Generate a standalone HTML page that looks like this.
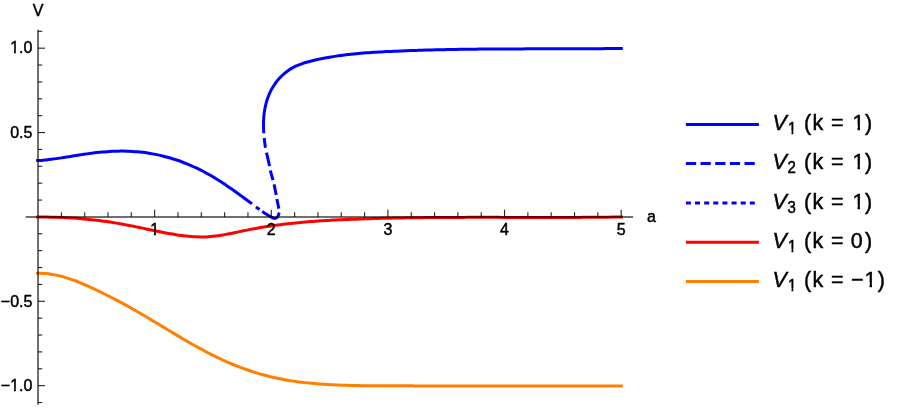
<!DOCTYPE html>
<html><head><meta charset="utf-8"><title>Plot</title>
<style>html,body{margin:0;padding:0;background:#fff;width:900px;height:408px;overflow:hidden;font-family:"Liberation Sans",sans-serif;}</style></head>
<body>
<svg width="900" height="408" viewBox="0 0 900 408" style="position:absolute;left:0;top:0;will-change:transform">
<rect width="900" height="408" fill="#fff"/>
<path d="M36.10,273.20 C36.94,273.20 39.48,273.13 41.16,273.19 C42.84,273.26 44.53,273.40 46.19,273.57 C47.86,273.74 49.52,273.96 51.16,274.22 C52.81,274.48 54.44,274.79 56.07,275.13 C57.70,275.46 59.31,275.85 60.92,276.26 C62.53,276.67 64.13,277.12 65.72,277.59 C67.31,278.07 68.89,278.57 70.46,279.11 C72.04,279.64 73.60,280.20 75.16,280.78 C76.72,281.36 78.28,281.97 79.82,282.59 C81.37,283.21 82.91,283.85 84.45,284.51 C85.98,285.17 87.51,285.84 89.03,286.53 C90.56,287.21 92.08,287.91 93.59,288.62 C95.11,289.33 96.62,290.05 98.13,290.78 C99.63,291.50 101.14,292.24 102.63,292.99 C104.13,293.73 105.63,294.48 107.12,295.23 C108.61,295.99 110.10,296.75 111.59,297.52 C113.08,298.28 114.56,299.06 116.04,299.84 C117.52,300.61 118.99,301.40 120.46,302.19 C121.94,302.98 123.41,303.78 124.87,304.58 C126.34,305.38 127.80,306.19 129.26,307.01 C130.72,307.82 132.17,308.64 133.62,309.47 C135.07,310.30 136.52,311.13 137.97,311.97 C139.41,312.81 140.86,313.65 142.30,314.50 C143.74,315.35 145.18,316.20 146.61,317.05 C148.05,317.91 149.49,318.77 150.92,319.62 C152.35,320.48 153.79,321.35 155.22,322.21 C156.65,323.07 158.08,323.94 159.51,324.80 C160.94,325.67 162.37,326.54 163.80,327.40 C165.23,328.27 166.66,329.13 168.09,330.00 C169.52,330.86 170.95,331.72 172.39,332.58 C173.82,333.44 175.25,334.30 176.69,335.15 C178.12,336.01 179.56,336.86 181.00,337.71 C182.44,338.56 183.88,339.40 185.32,340.24 C186.76,341.08 188.21,341.91 189.66,342.74 C191.11,343.57 192.56,344.39 194.01,345.21 C195.47,346.02 196.93,346.83 198.39,347.64 C199.85,348.44 201.32,349.23 202.79,350.02 C204.26,350.80 205.73,351.58 207.21,352.35 C208.69,353.12 210.18,353.88 211.67,354.63 C213.16,355.37 214.65,356.11 216.16,356.84 C217.66,357.57 219.16,358.28 220.68,358.99 C222.19,359.69 223.71,360.39 225.24,361.07 C226.76,361.75 228.29,362.41 229.83,363.07 C231.37,363.72 232.91,364.37 234.46,364.99 C236.01,365.62 237.56,366.24 239.12,366.84 C240.68,367.44 242.24,368.03 243.81,368.60 C245.38,369.17 246.96,369.73 248.54,370.27 C250.12,370.82 251.70,371.34 253.29,371.86 C254.88,372.37 256.47,372.87 258.07,373.35 C259.67,373.83 261.28,374.29 262.88,374.74 C264.49,375.19 266.11,375.62 267.72,376.04 C269.34,376.45 270.96,376.85 272.59,377.23 C274.21,377.61 275.84,377.97 277.47,378.31 C279.11,378.66 280.74,378.99 282.38,379.30 C284.03,379.61 285.67,379.90 287.32,380.18 C288.96,380.46 290.61,380.73 292.26,380.98 C293.92,381.23 295.57,381.46 297.23,381.69 C298.88,381.91 300.54,382.12 302.20,382.32 C303.86,382.52 305.52,382.70 307.19,382.88 C308.85,383.05 310.52,383.21 312.18,383.36 C313.85,383.52 315.51,383.66 317.18,383.79 C318.84,383.93 320.51,384.05 322.18,384.17 C323.85,384.28 325.51,384.39 327.18,384.49 C328.85,384.59 330.52,384.68 332.18,384.76 C333.85,384.84 335.52,384.92 337.19,384.99 C338.86,385.06 340.53,385.12 342.19,385.18 C343.86,385.24 345.53,385.29 347.20,385.34 C348.87,385.38 350.54,385.42 352.21,385.46 C353.88,385.50 355.55,385.53 357.22,385.56 C358.89,385.59 360.56,385.61 362.23,385.63 C363.90,385.65 365.57,385.67 367.24,385.69 C368.91,385.70 370.58,385.72 372.25,385.73 C373.92,385.74 375.59,385.75 377.26,385.76 C378.93,385.76 380.60,385.77 382.28,385.78 C383.95,385.78 385.62,385.79 387.29,385.79 C388.96,385.80 390.63,385.81 392.30,385.81 C393.97,385.82 395.64,385.82 397.31,385.83 C398.98,385.83 400.65,385.84 402.32,385.84 C403.99,385.85 405.66,385.85 407.33,385.85 C409.00,385.86 410.67,385.86 412.34,385.87 C414.01,385.87 415.68,385.88 417.35,385.88 C419.02,385.88 420.70,385.89 422.37,385.89 C424.04,385.89 425.71,385.90 427.38,385.90 C429.05,385.90 430.72,385.91 432.39,385.91 C434.06,385.91 435.73,385.92 437.40,385.92 C439.07,385.92 440.74,385.92 442.41,385.93 C444.08,385.93 445.75,385.93 447.42,385.93 C449.09,385.94 450.76,385.94 452.43,385.94 C454.10,385.94 455.77,385.94 457.44,385.94 C459.11,385.95 460.78,385.95 462.45,385.95 C464.12,385.95 465.79,385.95 467.46,385.95 C469.13,385.96 470.80,385.96 472.47,385.96 C474.14,385.96 475.81,385.96 477.48,385.96 C479.15,385.96 480.82,385.96 482.49,385.96 C484.16,385.96 485.83,385.96 487.50,385.97 C489.17,385.97 490.84,385.97 492.51,385.97 C494.18,385.97 495.86,385.97 497.53,385.97 C499.20,385.97 500.87,385.97 502.54,385.97 C504.21,385.97 505.88,385.97 507.55,385.97 C509.22,385.97 510.89,385.97 512.56,385.97 C514.23,385.97 515.90,385.97 517.57,385.97 C519.24,385.97 520.91,385.97 522.58,385.97 C524.25,385.96 525.92,385.96 527.59,385.96 C529.26,385.96 530.93,385.96 532.60,385.96 C534.27,385.96 535.94,385.96 537.61,385.96 C539.28,385.96 540.95,385.96 542.62,385.96 C544.29,385.96 545.96,385.96 547.63,385.95 C549.30,385.95 550.97,385.95 552.64,385.95 C554.31,385.95 555.98,385.95 557.65,385.95 C559.32,385.95 560.99,385.95 562.66,385.94 C564.33,385.94 566.00,385.94 567.67,385.94 C569.35,385.94 571.02,385.94 572.69,385.94 C574.36,385.94 576.03,385.93 577.70,385.93 C579.37,385.93 581.04,385.93 582.71,385.93 C584.38,385.93 586.05,385.93 587.72,385.93 C589.39,385.92 591.06,385.92 592.73,385.92 C594.40,385.92 596.07,385.92 597.74,385.92 C599.41,385.92 601.08,385.91 602.75,385.91 C604.42,385.91 606.09,385.91 607.77,385.91 C609.44,385.91 611.11,385.91 612.78,385.91 C614.45,385.90 616.12,385.90 617.79,385.90 C619.46,385.90 621.96,385.90 622.80,385.90" fill="none" stroke="#ff8000" stroke-width="3.0" stroke-linejoin="round" />
<path d="M36.30,217.00 C37.14,217.00 39.66,217.00 41.33,217.01 C43.01,217.01 44.69,217.03 46.36,217.05 C48.04,217.07 49.72,217.10 51.40,217.14 C53.07,217.18 54.75,217.23 56.43,217.28 C58.11,217.34 59.79,217.40 61.47,217.47 C63.15,217.55 64.82,217.63 66.50,217.72 C68.18,217.81 69.86,217.90 71.53,218.01 C73.21,218.12 74.89,218.23 76.57,218.36 C78.24,218.48 79.92,218.62 81.59,218.76 C83.27,218.90 84.94,219.05 86.61,219.21 C88.29,219.38 89.96,219.55 91.63,219.73 C93.30,219.90 94.97,220.09 96.64,220.29 C98.31,220.49 99.97,220.70 101.64,220.92 C103.30,221.13 104.97,221.36 106.63,221.60 C108.29,221.84 109.95,222.08 111.61,222.34 C113.27,222.60 114.93,222.87 116.58,223.14 C118.24,223.42 119.89,223.71 121.54,224.00 C123.19,224.30 124.84,224.61 126.49,224.92 C128.13,225.23 129.78,225.55 131.42,225.88 C133.07,226.20 134.71,226.54 136.36,226.87 C138.00,227.20 139.65,227.54 141.29,227.88 C142.93,228.22 144.58,228.57 146.22,228.91 C147.87,229.25 149.51,229.60 151.16,229.94 C152.80,230.28 154.45,230.62 156.10,230.96 C157.75,231.30 159.40,231.63 161.05,231.96 C162.70,232.29 164.35,232.62 166.01,232.93 C167.66,233.24 169.32,233.55 170.98,233.85 C172.64,234.14 174.30,234.43 175.96,234.69 C177.62,234.95 179.28,235.21 180.95,235.43 C182.61,235.66 184.27,235.87 185.94,236.06 C187.60,236.24 189.27,236.41 190.93,236.54 C192.60,236.67 194.27,236.78 195.93,236.85 C197.60,236.93 199.27,236.97 200.93,236.98 C202.60,236.99 204.26,236.96 205.93,236.89 C207.60,236.83 209.26,236.72 210.93,236.57 C212.59,236.43 214.26,236.23 215.92,236.02 C217.58,235.80 219.25,235.54 220.91,235.27 C222.57,235.00 224.23,234.70 225.88,234.39 C227.54,234.08 229.19,233.75 230.85,233.42 C232.50,233.09 234.15,232.75 235.80,232.41 C237.45,232.06 239.10,231.72 240.75,231.37 C242.40,231.03 244.05,230.68 245.70,230.35 C247.35,230.02 249.00,229.68 250.65,229.37 C252.30,229.05 253.96,228.74 255.61,228.44 C257.26,228.14 258.92,227.86 260.58,227.58 C262.23,227.30 263.89,227.03 265.55,226.76 C267.21,226.50 268.87,226.25 270.53,226.01 C272.19,225.76 273.85,225.53 275.51,225.30 C277.18,225.07 278.84,224.85 280.50,224.64 C282.17,224.43 283.83,224.23 285.50,224.03 C287.17,223.83 288.83,223.65 290.50,223.46 C292.17,223.28 293.84,223.11 295.51,222.94 C297.18,222.77 298.85,222.61 300.52,222.45 C302.19,222.30 303.86,222.15 305.53,222.01 C307.20,221.87 308.88,221.73 310.55,221.60 C312.22,221.47 313.90,221.34 315.57,221.22 C317.24,221.10 318.92,220.98 320.59,220.87 C322.27,220.76 323.94,220.66 325.62,220.56 C327.30,220.45 328.97,220.36 330.65,220.26 C332.33,220.17 334.00,220.08 335.68,220.00 C337.36,219.91 339.04,219.83 340.71,219.76 C342.39,219.68 344.07,219.60 345.75,219.53 C347.43,219.46 349.10,219.39 350.78,219.33 C352.46,219.26 354.14,219.20 355.82,219.14 C357.50,219.08 359.18,219.02 360.85,218.96 C362.53,218.90 364.21,218.85 365.89,218.80 C367.57,218.74 369.25,218.69 370.93,218.64 C372.61,218.59 374.28,218.55 375.96,218.50 C377.64,218.46 379.32,218.41 381.00,218.37 C382.68,218.33 384.36,218.29 386.04,218.25 C387.72,218.21 389.39,218.17 391.07,218.14 C392.75,218.10 394.43,218.07 396.11,218.03 C397.79,218.00 399.47,217.97 401.15,217.94 C402.83,217.91 404.50,217.88 406.18,217.85 C407.86,217.83 409.54,217.80 411.22,217.78 C412.90,217.75 414.58,217.73 416.26,217.71 C417.94,217.69 419.62,217.67 421.29,217.65 C422.97,217.63 424.65,217.61 426.33,217.59 C428.01,217.58 429.69,217.56 431.37,217.55 C433.05,217.53 434.73,217.52 436.41,217.51 C438.08,217.49 439.76,217.48 441.44,217.47 C443.12,217.46 444.80,217.45 446.48,217.44 C448.16,217.43 449.84,217.42 451.52,217.42 C453.20,217.41 454.88,217.40 456.56,217.40 C458.23,217.39 459.91,217.39 461.59,217.38 C463.27,217.38 464.95,217.37 466.63,217.37 C468.31,217.37 469.99,217.37 471.67,217.36 C473.35,217.36 475.03,217.36 476.71,217.36 C478.38,217.36 480.06,217.36 481.74,217.36 C483.42,217.36 485.10,217.36 486.78,217.36 C488.46,217.36 490.14,217.36 491.82,217.36 C493.50,217.37 495.18,217.37 496.86,217.37 C498.54,217.37 500.21,217.37 501.89,217.38 C503.57,217.38 505.25,217.38 506.93,217.38 C508.61,217.39 510.29,217.39 511.97,217.39 C513.65,217.40 515.33,217.40 517.01,217.40 C518.69,217.40 520.37,217.41 522.05,217.41 C523.72,217.41 525.40,217.42 527.08,217.42 C528.76,217.42 530.44,217.42 532.12,217.43 C533.80,217.43 535.48,217.43 537.16,217.43 C538.84,217.43 540.52,217.44 542.20,217.44 C543.88,217.44 545.55,217.44 547.23,217.44 C548.91,217.44 550.59,217.44 552.27,217.44 C553.95,217.44 555.63,217.44 557.31,217.44 C558.99,217.44 560.67,217.43 562.35,217.43 C564.03,217.43 565.71,217.43 567.39,217.42 C569.06,217.42 570.74,217.41 572.42,217.41 C574.10,217.40 575.78,217.40 577.46,217.39 C579.14,217.39 580.82,217.38 582.50,217.37 C584.18,217.36 585.86,217.35 587.54,217.34 C589.22,217.33 590.90,217.32 592.57,217.31 C594.25,217.30 595.93,217.29 597.61,217.27 C599.29,217.26 600.97,217.24 602.65,217.23 C604.33,217.21 606.01,217.19 607.69,217.18 C609.37,217.16 611.05,217.14 612.72,217.12 C614.40,217.10 616.08,217.06 617.76,217.05 C619.44,217.05 621.96,217.09 622.80,217.10" fill="none" stroke="#ff0000" stroke-width="3.0" stroke-linejoin="round" />
<path d="M36.20,160.60 C37.05,160.58 39.63,160.56 41.32,160.45 C43.02,160.34 44.69,160.13 46.37,159.94 C48.05,159.76 49.73,159.55 51.41,159.33 C53.09,159.11 54.77,158.88 56.45,158.63 C58.13,158.39 59.81,158.14 61.49,157.88 C63.17,157.62 64.84,157.35 66.52,157.08 C68.20,156.81 69.88,156.53 71.56,156.26 C73.24,155.99 74.92,155.71 76.60,155.44 C78.28,155.17 79.97,154.90 81.65,154.64 C83.33,154.38 85.02,154.12 86.70,153.88 C88.39,153.64 90.08,153.40 91.76,153.18 C93.45,152.96 95.14,152.75 96.84,152.56 C98.53,152.38 100.22,152.20 101.92,152.05 C103.62,151.89 105.31,151.75 107.01,151.63 C108.71,151.52 110.41,151.42 112.11,151.34 C113.81,151.26 115.51,151.20 117.21,151.16 C118.91,151.12 120.61,151.10 122.31,151.11 C124.00,151.11 125.70,151.14 127.40,151.19 C129.10,151.24 130.79,151.32 132.49,151.42 C134.18,151.52 135.87,151.64 137.56,151.79 C139.25,151.94 140.94,152.12 142.62,152.32 C144.31,152.52 145.99,152.75 147.67,153.01 C149.35,153.26 151.02,153.54 152.69,153.85 C154.36,154.16 156.03,154.49 157.69,154.85 C159.35,155.20 161.01,155.58 162.66,155.99 C164.31,156.40 165.96,156.83 167.60,157.28 C169.24,157.74 170.87,158.21 172.49,158.72 C174.12,159.22 175.74,159.74 177.35,160.29 C178.96,160.84 180.56,161.41 182.16,162.01 C183.75,162.60 185.34,163.22 186.92,163.86 C188.49,164.50 190.06,165.16 191.62,165.84 C193.18,166.53 194.73,167.23 196.27,167.96 C197.81,168.69 199.33,169.44 200.85,170.20 C202.37,170.97 203.87,171.76 205.37,172.57 C206.87,173.38 208.35,174.21 209.83,175.05 C211.31,175.89 212.77,176.76 214.23,177.63 C215.69,178.51 217.14,179.40 218.58,180.31 C220.02,181.21 221.45,182.14 222.87,183.07 C224.30,184.00 225.71,184.94 227.13,185.90 C228.54,186.85 229.94,187.81 231.34,188.79 C232.73,189.76 234.12,190.74 235.51,191.73 C236.89,192.72 238.27,193.71 239.65,194.71 C241.02,195.71 242.39,196.72 243.75,197.72 C245.12,198.73 246.46,199.76 247.84,200.76 C249.21,201.75 251.31,203.21 252.00,203.70" fill="none" stroke="#0000ff" stroke-width="3.0" stroke-linejoin="round" />
<path d="M263.75,133.20 C263.71,132.37 263.58,129.87 263.53,128.20 C263.49,126.53 263.46,124.88 263.49,123.20 C263.52,121.53 263.59,119.85 263.70,118.17 C263.82,116.49 263.99,114.80 264.21,113.13 C264.42,111.45 264.69,109.77 265.01,108.12 C265.33,106.46 265.70,104.80 266.14,103.17 C266.57,101.54 267.06,99.92 267.61,98.33 C268.17,96.74 268.78,95.17 269.45,93.63 C270.13,92.10 270.87,90.58 271.68,89.11 C272.49,87.64 273.36,86.20 274.30,84.80 C275.23,83.41 276.23,82.05 277.29,80.75 C278.35,79.45 279.46,78.19 280.63,76.99 C281.80,75.79 283.02,74.65 284.29,73.57 C285.56,72.49 286.88,71.46 288.25,70.52 C289.61,69.57 291.03,68.69 292.48,67.88 C293.93,67.08 295.43,66.35 296.95,65.68 C298.47,65.01 300.03,64.41 301.61,63.85 C303.19,63.29 304.80,62.79 306.41,62.31 C308.03,61.84 309.67,61.41 311.31,61.00 C312.95,60.58 314.60,60.20 316.24,59.83 C317.89,59.46 319.54,59.11 321.19,58.77 C322.84,58.43 324.49,58.11 326.15,57.80 C327.80,57.50 329.46,57.21 331.11,56.93 C332.77,56.65 334.43,56.39 336.09,56.14 C337.75,55.89 339.41,55.65 341.07,55.43 C342.74,55.20 344.40,54.99 346.06,54.79 C347.73,54.59 349.40,54.40 351.06,54.22 C352.73,54.04 354.40,53.87 356.07,53.71 C357.74,53.55 359.41,53.40 361.08,53.26 C362.75,53.11 364.42,52.98 366.09,52.85 C367.76,52.73 369.44,52.61 371.11,52.49 C372.78,52.38 374.46,52.27 376.13,52.17 C377.81,52.07 379.48,51.97 381.16,51.88 C382.83,51.79 384.51,51.70 386.18,51.62 C387.86,51.54 389.53,51.46 391.21,51.38 C392.89,51.30 394.56,51.22 396.24,51.15 C397.91,51.08 399.59,51.01 401.27,50.94 C402.94,50.87 404.62,50.80 406.30,50.74 C407.97,50.68 409.65,50.62 411.33,50.56 C413.01,50.50 414.68,50.44 416.36,50.38 C418.04,50.33 419.71,50.28 421.39,50.22 C423.07,50.17 424.75,50.12 426.42,50.08 C428.10,50.03 429.78,49.98 431.46,49.94 C433.13,49.90 434.81,49.85 436.49,49.81 C438.17,49.77 439.85,49.74 441.52,49.70 C443.20,49.66 444.88,49.63 446.56,49.59 C448.24,49.56 449.91,49.53 451.59,49.50 C453.27,49.47 454.95,49.44 456.63,49.41 C458.31,49.38 459.98,49.36 461.66,49.33 C463.34,49.31 465.02,49.28 466.70,49.26 C468.38,49.24 470.06,49.22 471.73,49.20 C473.41,49.18 475.09,49.16 476.77,49.14 C478.45,49.13 480.13,49.11 481.81,49.10 C483.48,49.08 485.16,49.07 486.84,49.05 C488.52,49.04 490.20,49.03 491.88,49.01 C493.56,49.00 495.24,48.99 496.92,48.98 C498.59,48.97 500.27,48.96 501.95,48.96 C503.63,48.95 505.31,48.94 506.99,48.93 C508.67,48.92 510.35,48.92 512.03,48.91 C513.71,48.91 515.38,48.90 517.06,48.90 C518.74,48.89 520.42,48.89 522.10,48.88 C523.78,48.88 525.46,48.87 527.14,48.87 C528.82,48.87 530.49,48.86 532.17,48.86 C533.85,48.86 535.53,48.86 537.21,48.85 C538.89,48.85 540.57,48.85 542.25,48.85 C543.93,48.84 545.60,48.84 547.28,48.84 C548.96,48.84 550.64,48.83 552.32,48.83 C554.00,48.83 555.68,48.83 557.36,48.82 C559.03,48.82 560.71,48.82 562.39,48.81 C564.07,48.81 565.75,48.81 567.43,48.80 C569.11,48.80 570.78,48.80 572.46,48.79 C574.14,48.79 575.82,48.78 577.50,48.78 C579.18,48.77 580.85,48.76 582.53,48.76 C584.21,48.75 585.89,48.74 587.57,48.73 C589.25,48.73 590.92,48.72 592.60,48.71 C594.28,48.70 595.96,48.69 597.63,48.68 C599.31,48.67 600.99,48.66 602.67,48.64 C604.35,48.63 606.02,48.62 607.70,48.60 C609.38,48.59 611.05,48.57 612.73,48.56 C614.41,48.54 616.09,48.51 617.76,48.50 C619.44,48.49 621.96,48.50 622.80,48.50" fill="none" stroke="#0000ff" stroke-width="3.0" stroke-linejoin="round" />
<path d="M264.20,138.00 C264.40,139.62 265.20,146.08 265.40,147.70" fill="none" stroke="#0000ff" stroke-width="3.0" stroke-linejoin="round" />
<path d="M266.50,152.70 C267.02,154.95 269.08,163.95 269.60,166.20" fill="none" stroke="#0000ff" stroke-width="3.0" stroke-linejoin="round" />
<path d="M270.30,170.50 C270.75,172.10 272.55,178.50 273.00,180.10" fill="none" stroke="#0000ff" stroke-width="3.0" stroke-linejoin="round" />
<path d="M274.10,184.40 C274.45,186.17 275.85,193.23 276.20,195.00" fill="none" stroke="#0000ff" stroke-width="3.0" stroke-linejoin="round" />
<path d="M276.90,199.00 C277.22,200.60 278.48,207.00 278.80,208.60" fill="none" stroke="#0000ff" stroke-width="3.0" stroke-linejoin="round" />
<path d="M262.20,211.55 C262.92,211.99 265.12,213.35 266.50,214.20 C267.88,215.05 269.40,216.02 270.50,216.65 C271.60,217.28 272.30,217.72 273.10,218.00 C273.90,218.28 274.62,218.47 275.30,218.35 C275.98,218.23 276.68,217.81 277.20,217.30 C277.72,216.79 278.07,216.10 278.40,215.30 C278.73,214.50 279.07,212.97 279.20,212.50" fill="none" stroke="#0000ff" stroke-width="3.0" stroke-linejoin="round" />
<path d="M255.90,207.00 C256.52,207.43 258.98,209.17 259.60,209.60" fill="none" stroke="#0000ff" stroke-width="3.0" stroke-linejoin="round" />
<g stroke="#404040" stroke-width="1.5" fill="none" style="mix-blend-mode:multiply">
<line x1="25.7" y1="216.97" x2="633.1" y2="216.97"/>
<line x1="38.03" y1="29.8" x2="38.03" y2="404.7"/>
</g>
<g stroke="#222222" stroke-width="1.1" fill="none" style="mix-blend-mode:multiply">
<line x1="61.36" y1="216.92" x2="61.36" y2="212.32"/>
<line x1="84.68" y1="216.92" x2="84.68" y2="212.32"/>
<line x1="108.01" y1="216.92" x2="108.01" y2="212.32"/>
<line x1="131.33" y1="216.92" x2="131.33" y2="212.32"/>
<line x1="154.66" y1="216.92" x2="154.66" y2="209.72"/>
<line x1="177.99" y1="216.92" x2="177.99" y2="212.32"/>
<line x1="201.31" y1="216.92" x2="201.31" y2="212.32"/>
<line x1="224.64" y1="216.92" x2="224.64" y2="212.32"/>
<line x1="247.96" y1="216.92" x2="247.96" y2="212.32"/>
<line x1="271.29" y1="216.92" x2="271.29" y2="209.72"/>
<line x1="294.62" y1="216.92" x2="294.62" y2="212.32"/>
<line x1="317.94" y1="216.92" x2="317.94" y2="212.32"/>
<line x1="341.27" y1="216.92" x2="341.27" y2="212.32"/>
<line x1="364.59" y1="216.92" x2="364.59" y2="212.32"/>
<line x1="387.92" y1="216.92" x2="387.92" y2="209.72"/>
<line x1="411.25" y1="216.92" x2="411.25" y2="212.32"/>
<line x1="434.57" y1="216.92" x2="434.57" y2="212.32"/>
<line x1="457.90" y1="216.92" x2="457.90" y2="212.32"/>
<line x1="481.22" y1="216.92" x2="481.22" y2="212.32"/>
<line x1="504.55" y1="216.92" x2="504.55" y2="209.72"/>
<line x1="527.88" y1="216.92" x2="527.88" y2="212.32"/>
<line x1="551.20" y1="216.92" x2="551.20" y2="212.32"/>
<line x1="574.53" y1="216.92" x2="574.53" y2="212.32"/>
<line x1="597.85" y1="216.92" x2="597.85" y2="212.32"/>
<line x1="621.18" y1="216.92" x2="621.18" y2="209.72"/>
<line x1="38.03" y1="402.53" x2="42.23" y2="402.53"/>
<line x1="38.03" y1="385.66" x2="45.03" y2="385.66"/>
<line x1="38.03" y1="368.79" x2="42.23" y2="368.79"/>
<line x1="38.03" y1="351.91" x2="42.23" y2="351.91"/>
<line x1="38.03" y1="335.04" x2="42.23" y2="335.04"/>
<line x1="38.03" y1="318.16" x2="42.23" y2="318.16"/>
<line x1="38.03" y1="301.29" x2="45.03" y2="301.29"/>
<line x1="38.03" y1="284.42" x2="42.23" y2="284.42"/>
<line x1="38.03" y1="267.54" x2="42.23" y2="267.54"/>
<line x1="38.03" y1="250.67" x2="42.23" y2="250.67"/>
<line x1="38.03" y1="233.79" x2="42.23" y2="233.79"/>
<line x1="38.03" y1="200.05" x2="42.23" y2="200.05"/>
<line x1="38.03" y1="183.17" x2="42.23" y2="183.17"/>
<line x1="38.03" y1="166.30" x2="42.23" y2="166.30"/>
<line x1="38.03" y1="149.42" x2="42.23" y2="149.42"/>
<line x1="38.03" y1="132.55" x2="45.03" y2="132.55"/>
<line x1="38.03" y1="115.68" x2="42.23" y2="115.68"/>
<line x1="38.03" y1="98.80" x2="42.23" y2="98.80"/>
<line x1="38.03" y1="81.93" x2="42.23" y2="81.93"/>
<line x1="38.03" y1="65.05" x2="42.23" y2="65.05"/>
<line x1="38.03" y1="48.18" x2="45.03" y2="48.18"/>
<line x1="38.03" y1="31.31" x2="42.23" y2="31.31"/>
</g>
<g font-family="Liberation Sans, sans-serif" fill="#000" stroke="#000" stroke-width="0.45">
<clipPath id="c1"><path d="M-10,-10H910V418H-10Z M149.93,231.59H154.01V237.50H149.93Z M155.87,231.59H159.83V237.50H155.87Z" clip-rule="evenodd"/></clipPath><g clip-path="url(#c1)"><text x="154.66" y="235.00" font-size="16" text-anchor="middle" transform="matrix(1 0 0 1.04 0 -9.400)">1</text></g>
<text x="271.29" y="235.00" font-size="16" text-anchor="middle" transform="matrix(1 0 0 1.04 0 -9.400)">2</text>
<text x="387.92" y="235.00" font-size="16" text-anchor="middle" transform="matrix(1 0 0 1.04 0 -9.400)">3</text>
<text x="504.55" y="235.00" font-size="16" text-anchor="middle" transform="matrix(1 0 0 1.04 0 -9.400)">4</text>
<text x="621.18" y="235.00" font-size="16" text-anchor="middle" transform="matrix(1 0 0 1.04 0 -9.400)">5</text>
<clipPath id="c2"><path d="M-10,-10H910V418H-10Z M9.88,50.07H13.96V55.98H9.88Z M15.82,50.07H19.77V55.98H15.82Z" clip-rule="evenodd"/></clipPath><g clip-path="url(#c2)"><text x="32.40" y="53.48" font-size="16" text-anchor="end" transform="matrix(1 0 0 1.04 0 -2.139)">1.0</text></g>
<text x="32.40" y="137.85" font-size="16" text-anchor="end" transform="matrix(1 0 0 1.04 0 -5.514)">0.5</text>
<text x="32.40" y="306.59" font-size="16" text-anchor="end" transform="matrix(1 0 0 1.04 0 -12.264)">−0.5</text>
<clipPath id="c3"><path d="M-10,-10H910V418H-10Z M9.88,387.55H13.96V393.46H9.88Z M15.82,387.55H19.77V393.46H15.82Z" clip-rule="evenodd"/></clipPath><g clip-path="url(#c3)"><text x="32.40" y="390.96" font-size="16" text-anchor="end" transform="matrix(1 0 0 1.04 0 -15.638)">−1.0</text></g>
<text x="38.00" y="15.90" font-size="16" text-anchor="middle" transform="matrix(1 0 0 1.04 0 -0.636)">V</text>
<text x="647.00" y="221.60" font-size="16" transform="matrix(1 0 0 1.04 0 -8.864)">a</text>
</g>
<line x1="685.9" y1="124.50" x2="758.90" y2="124.50" stroke="#0000ff" stroke-width="3.0"/>
<g font-family="Liberation Sans, sans-serif" fill="#000" stroke="#000" stroke-width="0.45"><text x="772.50" y="130.20" font-size="21.5" font-style="italic" transform="matrix(1 0 0 1.04 0 -5.208)">V</text><clipPath id="c4"><path d="M-10,-10H910V418H-10Z M787.64,131.00H791.55V136.70H787.64Z M793.32,131.00H797.11V136.70H793.32Z" clip-rule="evenodd"/></clipPath><g clip-path="url(#c4)"><text x="788.00" y="134.20" font-size="15" transform="matrix(1 0 0 1.04 0 -5.368)">1</text></g><text x="804.00" y="130.20" font-size="21.5" transform="matrix(1 0 0 1.04 0 -5.208)">(</text><text x="812.50" y="130.20" font-size="21.5" transform="matrix(1 0 0 1.04 0 -5.208)">k</text><text x="831.10" y="130.20" font-size="21.5" transform="matrix(1 0 0 1.04 0 -5.208)">=</text><clipPath id="c5"><path d="M-10,-10H910V418H-10Z M852.54,125.61H857.58V132.70H852.54Z M859.93,125.61H864.81V132.70H859.93Z" clip-rule="evenodd"/></clipPath><g clip-path="url(#c5)"><text x="852.40" y="130.20" font-size="21.5" transform="matrix(1 0 0 1.04 0 -5.208)">1</text></g><text x="864.90" y="130.20" font-size="21.5" transform="matrix(1 0 0 1.04 0 -5.208)">)</text></g>
<line x1="685.9" y1="163.50" x2="755.00" y2="163.50" stroke="#0000ff" stroke-width="3.0" stroke-dasharray="10.25 4.4"/>
<g font-family="Liberation Sans, sans-serif" fill="#000" stroke="#000" stroke-width="0.45"><text x="772.50" y="169.20" font-size="21.5" font-style="italic" transform="matrix(1 0 0 1.04 0 -6.768)">V</text><text x="787.50" y="173.20" font-size="15" transform="matrix(1 0 0 1.04 0 -6.928)">2</text><text x="804.00" y="169.20" font-size="21.5" transform="matrix(1 0 0 1.04 0 -6.768)">(</text><text x="812.50" y="169.20" font-size="21.5" transform="matrix(1 0 0 1.04 0 -6.768)">k</text><text x="831.10" y="169.20" font-size="21.5" transform="matrix(1 0 0 1.04 0 -6.768)">=</text><clipPath id="c6"><path d="M-10,-10H910V418H-10Z M852.54,164.61H857.58V171.70H852.54Z M859.93,164.61H864.81V171.70H859.93Z" clip-rule="evenodd"/></clipPath><g clip-path="url(#c6)"><text x="852.40" y="169.20" font-size="21.5" transform="matrix(1 0 0 1.04 0 -6.768)">1</text></g><text x="864.90" y="169.20" font-size="21.5" transform="matrix(1 0 0 1.04 0 -6.768)">)</text></g>
<line x1="685.9" y1="203.00" x2="755.00" y2="203.00" stroke="#0000ff" stroke-width="3.0" stroke-dasharray="5.0 4.13"/>
<g font-family="Liberation Sans, sans-serif" fill="#000" stroke="#000" stroke-width="0.45"><text x="772.50" y="208.70" font-size="21.5" font-style="italic" transform="matrix(1 0 0 1.04 0 -8.348)">V</text><text x="787.50" y="212.70" font-size="15" transform="matrix(1 0 0 1.04 0 -8.508)">3</text><text x="804.00" y="208.70" font-size="21.5" transform="matrix(1 0 0 1.04 0 -8.348)">(</text><text x="812.50" y="208.70" font-size="21.5" transform="matrix(1 0 0 1.04 0 -8.348)">k</text><text x="831.10" y="208.70" font-size="21.5" transform="matrix(1 0 0 1.04 0 -8.348)">=</text><clipPath id="c7"><path d="M-10,-10H910V418H-10Z M852.54,204.11H857.58V211.20H852.54Z M859.93,204.11H864.81V211.20H859.93Z" clip-rule="evenodd"/></clipPath><g clip-path="url(#c7)"><text x="852.40" y="208.70" font-size="21.5" transform="matrix(1 0 0 1.04 0 -8.348)">1</text></g><text x="864.90" y="208.70" font-size="21.5" transform="matrix(1 0 0 1.04 0 -8.348)">)</text></g>
<line x1="685.9" y1="242.30" x2="758.90" y2="242.30" stroke="#ff0000" stroke-width="3.0"/>
<g font-family="Liberation Sans, sans-serif" fill="#000" stroke="#000" stroke-width="0.45"><text x="772.50" y="248.00" font-size="21.5" font-style="italic" transform="matrix(1 0 0 1.04 0 -9.920)">V</text><clipPath id="c8"><path d="M-10,-10H910V418H-10Z M787.64,248.80H791.55V254.50H787.64Z M793.32,248.80H797.11V254.50H793.32Z" clip-rule="evenodd"/></clipPath><g clip-path="url(#c8)"><text x="788.00" y="252.00" font-size="15" transform="matrix(1 0 0 1.04 0 -10.080)">1</text></g><text x="804.00" y="248.00" font-size="21.5" transform="matrix(1 0 0 1.04 0 -9.920)">(</text><text x="812.50" y="248.00" font-size="21.5" transform="matrix(1 0 0 1.04 0 -9.920)">k</text><text x="831.10" y="248.00" font-size="21.5" transform="matrix(1 0 0 1.04 0 -9.920)">=</text><text x="850.70" y="248.00" font-size="21.5" transform="matrix(1 0 0 1.04 0 -9.920)">0</text><text x="864.90" y="248.00" font-size="21.5" transform="matrix(1 0 0 1.04 0 -9.920)">)</text></g>
<line x1="685.9" y1="281.50" x2="758.90" y2="281.50" stroke="#ff8000" stroke-width="3.0"/>
<g font-family="Liberation Sans, sans-serif" fill="#000" stroke="#000" stroke-width="0.45"><text x="772.50" y="287.20" font-size="21.5" font-style="italic" transform="matrix(1 0 0 1.04 0 -11.488)">V</text><clipPath id="c9"><path d="M-10,-10H910V418H-10Z M787.64,288.00H791.55V293.70H787.64Z M793.32,288.00H797.11V293.70H793.32Z" clip-rule="evenodd"/></clipPath><g clip-path="url(#c9)"><text x="788.00" y="291.20" font-size="15" transform="matrix(1 0 0 1.04 0 -11.648)">1</text></g><text x="804.00" y="287.20" font-size="21.5" transform="matrix(1 0 0 1.04 0 -11.488)">(</text><text x="812.50" y="287.20" font-size="21.5" transform="matrix(1 0 0 1.04 0 -11.488)">k</text><text x="831.10" y="287.20" font-size="21.5" transform="matrix(1 0 0 1.04 0 -11.488)">=</text><text x="850.90" y="287.20" font-size="21.5" transform="matrix(1 0 0 1.04 0 -11.488)">−</text><clipPath id="c10"><path d="M-10,-10H910V418H-10Z M864.54,282.61H869.58V289.70H864.54Z M871.93,282.61H876.81V289.70H871.93Z" clip-rule="evenodd"/></clipPath><g clip-path="url(#c10)"><text x="864.40" y="287.20" font-size="21.5" transform="matrix(1 0 0 1.04 0 -11.488)">1</text></g><text x="877.70" y="287.20" font-size="21.5" transform="matrix(1 0 0 1.04 0 -11.488)">)</text></g>
</svg>
</body></html>
